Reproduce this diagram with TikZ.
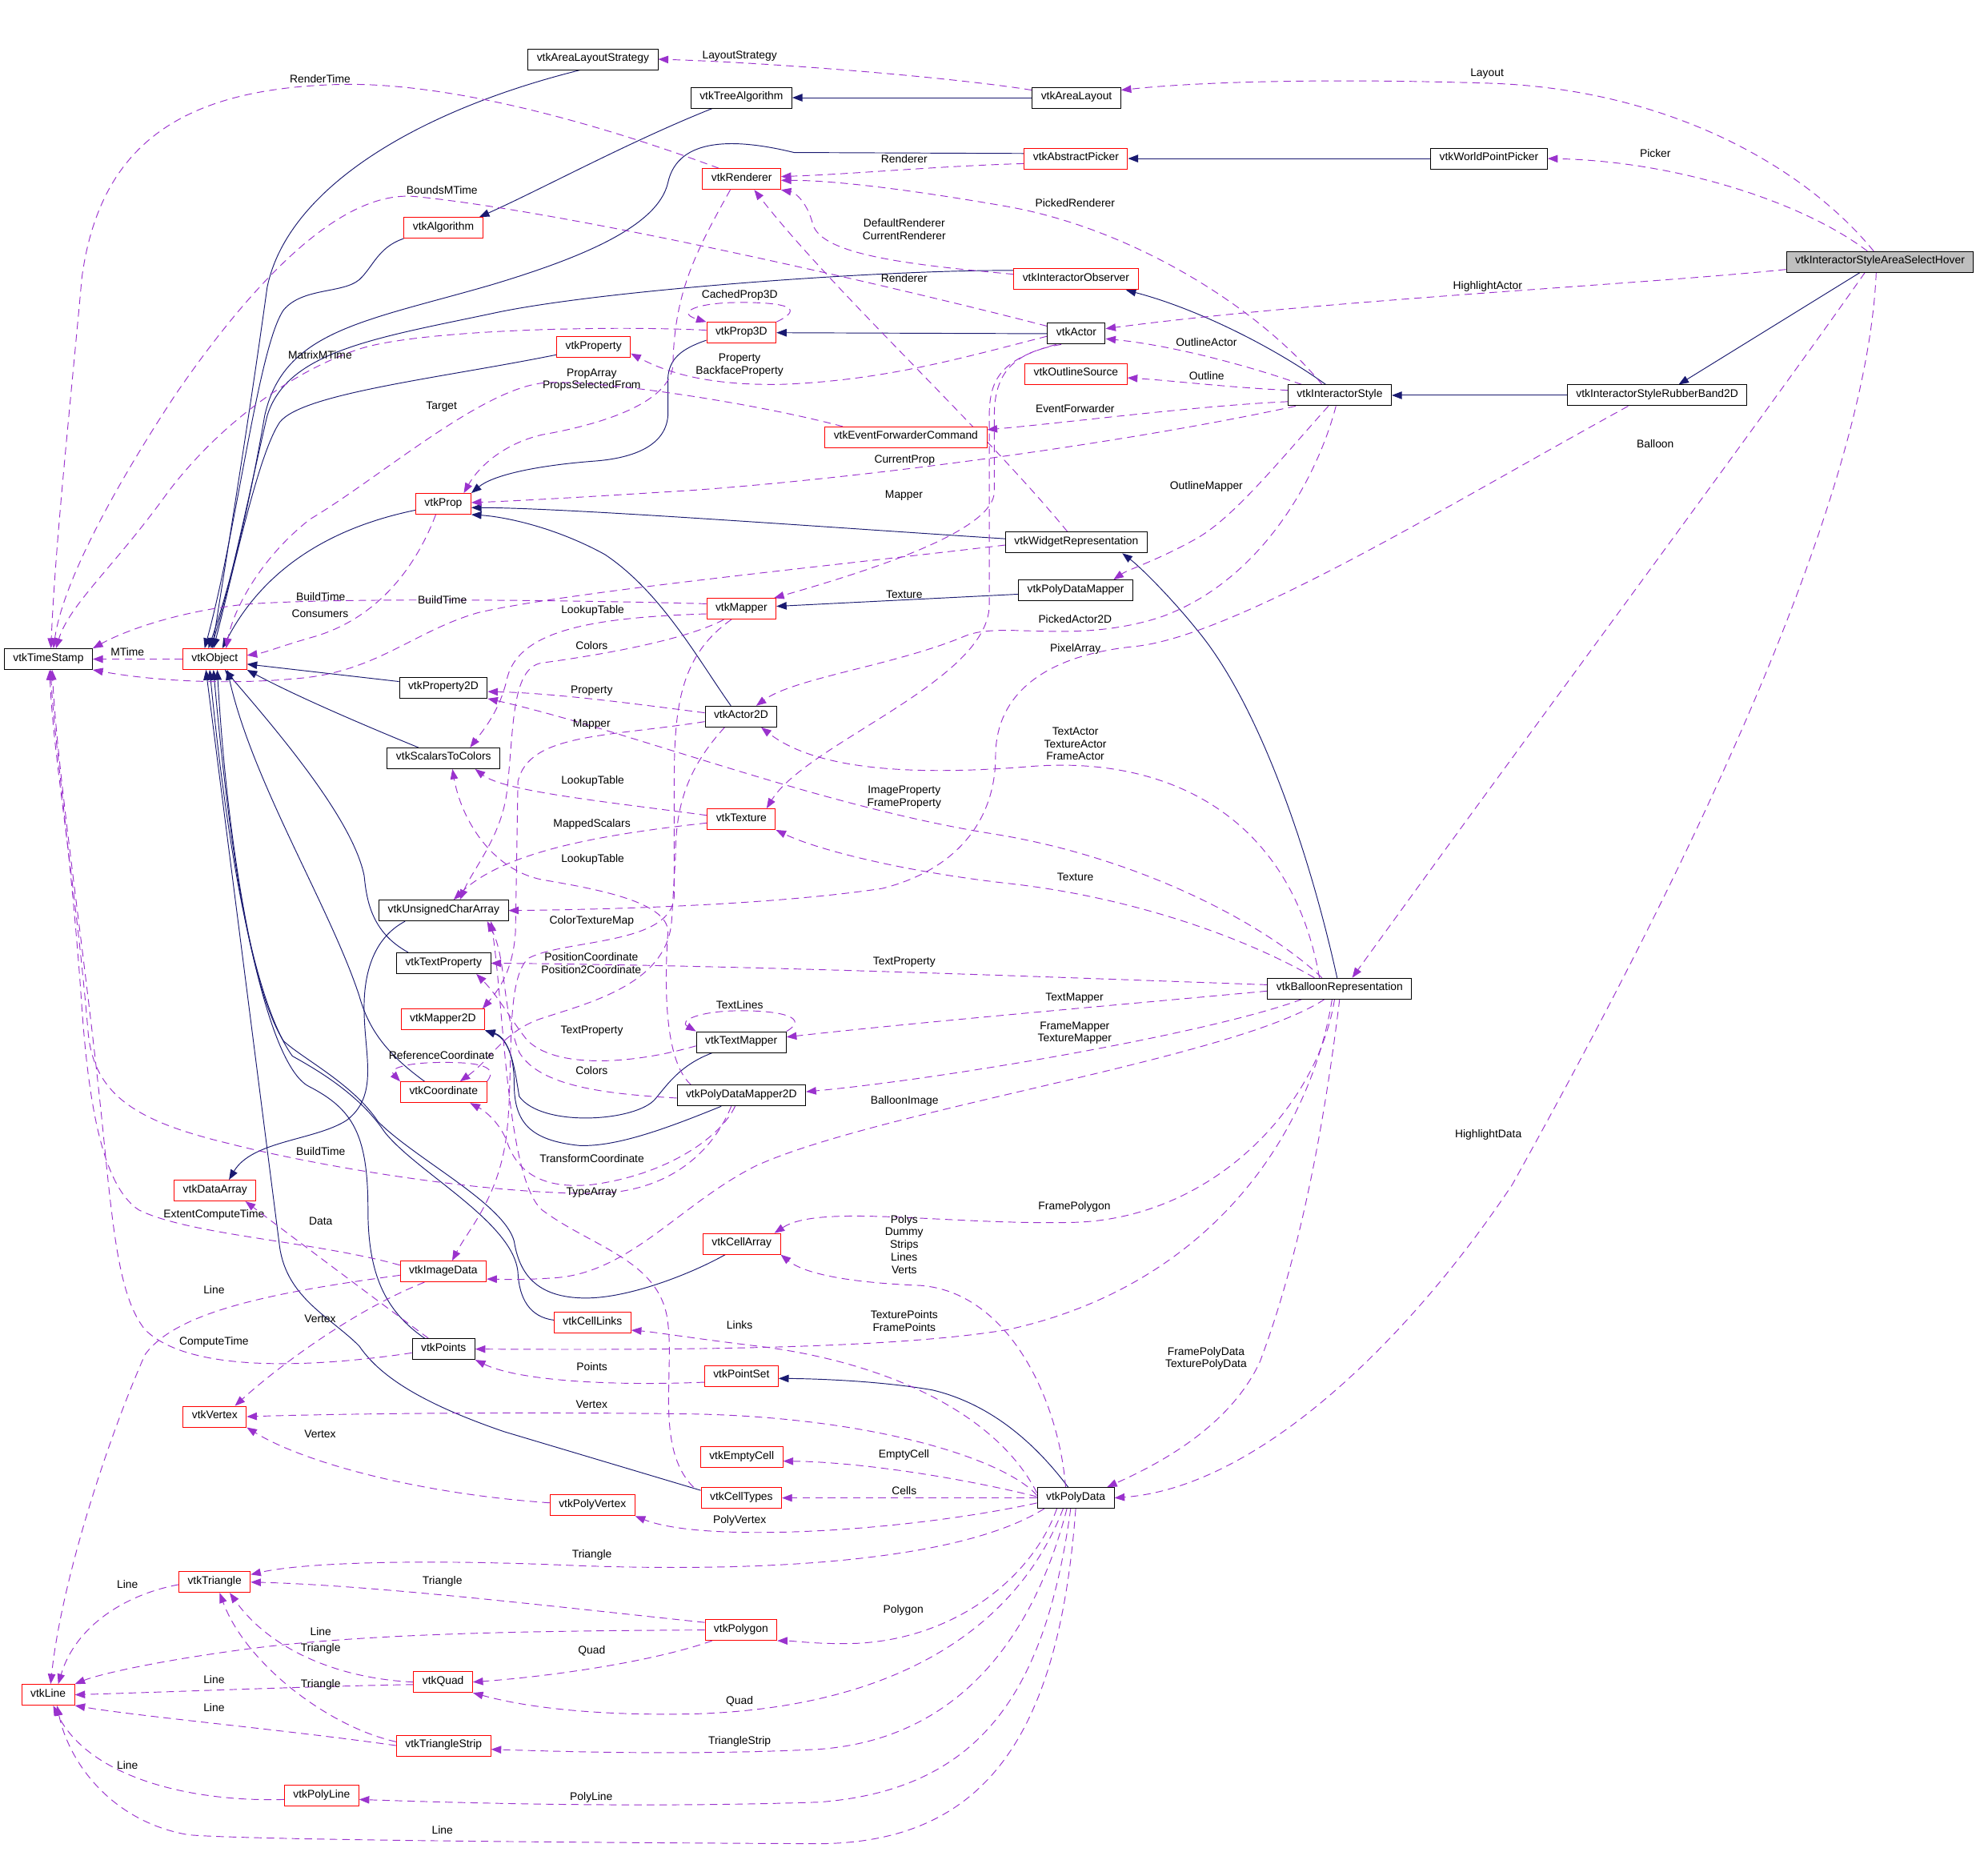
\documentclass[tikz,border=0pt]{standalone}
\usepackage{fontspec}
\setmainfont{Liberation Sans}
\usetikzlibrary{arrows.meta}
\definecolor{inhblue}{HTML}{191970}
\definecolor{usepurple}{HTML}{9A32CD}
\definecolor{boxred}{HTML}{FF0000}
\definecolor{focusgray}{HTML}{BFBFBF}
\newcommand{\diafont}{\fontsize{8.8}{10}\selectfont}
\pgfdeclarelayer{edges}
\pgfsetlayers{edges,main}
\tikzset{
  cls/.style={draw=black, fill=white, line width=0.6pt, font=\diafont, inner xsep=7pt, inner ysep=0pt, minimum height=16.5pt, text height=5.2pt, text depth=2pt},
  trunc/.style={cls, draw=boxred},
  focus/.style={cls, fill=focusgray},
  inh/.style={draw=inhblue, line width=0.6pt, -{Triangle[length=8pt,width=6pt]}},
  member/.style={draw=usepurple, line width=0.6pt, dash pattern=on 6pt off 4pt, -{Triangle[length=8pt,width=6pt]}},
  lab/.style={font=\diafont, align=center, inner sep=0pt, text=black},
}

\begin{document}
\begin{tikzpicture}[x=1pt,y=-1pt]
\begin{pgfonlayer}{edges}
\fill[white] (0,0) rectangle (1568,1488);
\end{pgfonlayer}
\useasboundingbox (0,0) rectangle (1568,1488);

\node[cls] (ALS) at (470.5,47) {vtkAreaLayoutStrategy};
\node[cls] (TreeAlg) at (588.3,77.5) {vtkTreeAlgorithm};
\node[cls] (AreaLayout) at (854.2,77.5) {vtkAreaLayout};
\node[trunc] (AbsPicker) at (853.8,125.8) {vtkAbstractPicker};
\node[cls] (WPPicker) at (1181.5,125.8) {vtkWorldPointPicker};
\node[trunc] (Renderer) at (588.5,142.1) {vtkRenderer};
\node[trunc] (Algorithm) at (351.8,180.8) {vtkAlgorithm};
\node[trunc] (IObserver) at (853.8,221.6) {vtkInteractorObserver};
\node[focus] (ISASH) at (1491.8,207.8) {vtkInteractorStyleAreaSelectHover};
\node[trunc] (Prop3D) at (588.3,264) {vtkProp3D};
\node[cls] (Actor) at (854.1,264.8) {vtkActor};
\node[trunc] (Property) at (471,275.5) {vtkProperty};
\node[trunc] (OutlineSrc) at (853.8,296.8) {vtkOutlineSource};
\node[cls] (IStyle) at (1063.1,313.7) {vtkInteractorStyle};
\node[cls] (ISRB) at (1315,313.7) {vtkInteractorStyleRubberBand2D};
\node[trunc] (EFC) at (718.8,347) {vtkEventForwarderCommand};
\node[trunc] (Prop) at (351.8,399.8) {vtkProp};
\node[cls] (WidgetRep) at (854.1,430.5) {vtkWidgetRepresentation};
\node[cls] (PDMapper) at (853.6,468.5) {vtkPolyDataMapper};
\node[trunc] (Mapper) at (588.3,483.1) {vtkMapper};
\node[cls] (TimeStamp) at (38.4,523) {vtkTimeStamp};
\node[trunc] (Object) at (170.4,523) {vtkObject};
\node[cls] (Property2D) at (351.8,545.8) {vtkProperty2D};
\node[cls] (Actor2D) at (588,568.6) {vtkActor2D};
\node[cls] (S2C) at (352,601.7) {vtkScalarsToColors};
\node[trunc] (Texture) at (588.3,650) {vtkTexture};
\node[cls] (UCArray) at (352,722.5) {vtkUnsignedCharArray};
\node[cls] (TextProp) at (352,764.3) {vtkTextProperty};
\node[cls] (BalloonRep) at (1063,784.4) {vtkBalloonRepresentation};
\node[trunc] (Mapper2D) at (351.4,809) {vtkMapper2D};
\node[cls] (TextMapper) at (588.2,826.9) {vtkTextMapper};
\node[trunc] (Coord) at (352,866.7) {vtkCoordinate};
\node[cls] (PDMapper2D) at (588.3,869.3) {vtkPolyDataMapper2D};
\node[trunc] (DataArray) at (170.7,944.7) {vtkDataArray};
\node[trunc] (CellArray) at (588.5,987) {vtkCellArray};
\node[trunc] (ImageData) at (351.8,1008.9) {vtkImageData};
\node[trunc] (CellLinks) at (470.2,1049.5) {vtkCellLinks};
\node[cls] (Points) at (352,1070.5) {vtkPoints};
\node[trunc] (PointSet) at (588.3,1091.8) {vtkPointSet};
\node[trunc] (Vertex) at (170.4,1124.1) {vtkVertex};
\node[trunc] (EmptyCell) at (588.5,1156.4) {vtkEmptyCell};
\node[trunc] (CellTypes) at (588.3,1188.6) {vtkCellTypes};
\node[cls] (PolyData) at (853.6,1188.6) {vtkPolyData};
\node[trunc] (PolyVertex) at (470.1,1194.5) {vtkPolyVertex};
\node[trunc] (Triangle) at (170.3,1255.4) {vtkTriangle};
\node[trunc] (Polygon) at (588,1293.4) {vtkPolygon};
\node[trunc] (Quad) at (351.6,1334.7) {vtkQuad};
\node[trunc] (Line) at (38.2,1344.8) {vtkLine};
\node[trunc] (TriStrip) at (352,1385.1) {vtkTriangleStrip};
\node[trunc] (PolyLine) at (255.2,1424.9) {vtkPolyLine};

\begin{pgfonlayer}{edges}
\draw[inh] ([xshift=-10pt]ALS.south) .. controls (330,88) and (228,150) .. (212,228) .. controls (198,330) and (180,440) .. ([xshift=-2pt]Object.north);
\draw[inh] ([xshift=-23pt]TreeAlg.south) .. controls (500,112) and (430,150) .. ([xshift=-3pt]Algorithm.north east);
\draw[inh] (AreaLayout.west) -- (TreeAlg.east);
\draw[inh] ([yshift=4pt]AbsPicker.west) -- (630,121) .. controls (585,110) and (538,108) .. (530,145) .. controls (522,180) and (460,205) .. (390,226) .. controls (290,255) and (225,262) .. (210,330) .. controls (198,400) and (184,460) .. ([xshift=-5pt]Object.north);
\draw[inh] (WPPicker.west) -- (AbsPicker.east);
\draw[inh] (Algorithm.south west) .. controls (300,196) and (296,212) .. (285,222) .. controls (272,233) and (240,228) .. (225,246) .. controls (205,275) and (188,420) .. ([xshift=-8pt]Object.north);
\draw[inh] ([yshift=7pt]IObserver.west) .. controls (700,214) and (480,230) .. (394,248) .. controls (300,268) and (228,278) .. (212,330) .. controls (198,390) and (184,460) .. ([xshift=-3pt]Object.north);
\draw[inh] ([yshift=-6pt]Prop3D.west) .. controls (540,277) and (531,285) .. (530,300) -- (530,330) .. controls (528,355) and (500,364) .. (470,366) .. controls (420,370) and (390,378) .. (Prop.north east);
\draw[inh] (Actor.west) -- (Prop3D.east);
\draw[inh] ([yshift=-6pt]Property.west) .. controls (350,300) and (240,312) .. (222,335) .. controls (205,360) and (186,450) .. ([xshift=-1pt]Object.north);
\draw[inh] ([xshift=-11pt]IStyle.north) .. controls (1010,275) and (950,245) .. ([xshift=-10pt]IObserver.south east);
\draw[inh] (ISRB.west) -- (IStyle.east);
\draw[inh] ([xshift=-16pt]ISASH.south) -- ([xshift=17pt]ISRB.north);
\draw[inh] ([yshift=-5pt]Prop.west) .. controls (280,415) and (215,440) .. ([xshift=6pt]Object.north);
\draw[inh] ([yshift=3pt]WidgetRep.west) .. controls (650,418) and (450,403) .. ([yshift=-3pt]Prop.east);
\draw[inh] ([yshift=-3pt]PDMapper.west) -- ([yshift=2pt]Mapper.east);
\draw[inh] ([yshift=5pt]Property2D.west) -- ([yshift=-4pt]Object.east);
\draw[inh] ([xshift=-8pt]Actor2D.north) .. controls (555,525) and (525,470) .. (480,440) .. controls (440,418) and (400,410) .. (Prop.south east);
\draw[inh] ([xshift=-20pt]S2C.north) .. controls (300,580) and (240,555) .. (Object.south east);
\draw[inh] ([xshift=-2pt]BalloonRep.north) .. controls (1040,680) and (1000,560) .. (950,500) .. controls (930,475) and (905,450) .. ([xshift=-20pt]WidgetRep.south east);
\draw[inh] ([xshift=-28pt]TextProp.north) .. controls (295,740) and (291,715) .. (289,695) .. controls (280,650) and (220,580) .. ([xshift=8pt]Object.south);
\draw[inh] ([xshift=-23pt]TextMapper.south) .. controls (540,845) and (530,860) .. (520,872) .. controls (505,890) and (430,895) .. (412,870) .. controls (408,845) and (405,825) .. (Mapper2D.south east);
\draw[inh] ([xshift=-16pt]PDMapper2D.south) .. controls (530,895) and (490,910) .. (460,909) .. controls (420,905) and (408,890) .. (408,860) .. controls (408,835) and (400,822) .. (Mapper2D.south east);
\draw[inh] ([xshift=21pt]UCArray.south west) .. controls (295,745) and (288,775) .. (289,805) .. controls (290,840) and (300,870) .. (275,889) .. controls (250,905) and (200,905) .. ([xshift=11pt]DataArray.north);
\draw[inh] ([xshift=-15pt]Coord.north) .. controls (305,835) and (292,815) .. (285,790) .. controls (262,720) and (200,620) .. ([xshift=10pt]Object.south);
\draw[inh] ([xshift=-15pt]Points.north) .. controls (305,1040) and (292,1010) .. (292,960) .. controls (292,900) and (280,880) .. (245,862) .. controls (212,845) and (182,700) .. ([xshift=2pt]Object.south);
\draw[inh] ([xshift=-13pt]CellArray.south) .. controls (550,1010) and (500,1030) .. (465,1030) .. controls (425,1030) and (412,1010) .. (408,985) .. controls (400,955) and (330,920) .. (300,890) .. controls (280,860) and (240,840) .. (225,826) .. controls (196,780) and (180,650) .. ([xshift=-1pt]Object.south);
\draw[inh] ([yshift=2pt]CellLinks.west) .. controls (420,1045) and (412,1030) .. (411,1010) .. controls (408,970) and (330,930) .. (305,898) .. controls (285,868) and (250,848) .. (232,838) .. controls (198,790) and (178,650) .. ([xshift=-4pt]Object.south);
\draw[inh] ([yshift=6pt]CellTypes.west) -- (400,1136) .. controls (330,1112) and (300,1090) .. (285,1068) .. controls (262,1045) and (228,1030) .. (222,990) -- ([xshift=-7pt]Object.south);
\draw[inh] ([xshift=-6pt]PolyData.north) .. controls (825,1150) and (790,1115) .. (740,1103) .. controls (700,1096) and (650,1094) .. ([yshift=-2pt]PointSet.east);

\draw[member] ([xshift=-5pt]ISASH.north) .. controls (1430,130) and (1320,70) .. (1180,66) .. controls (1050,62) and (950,65) .. ([yshift=6pt]AreaLayout.east) node[lab] (tLayout) at (1180,58.3) {Layout};
\draw[member] ([xshift=-10pt]ISASH.north) .. controls (1430,160) and (1330,128) .. (WPPicker.east) node[lab] (tPicker) at (1313.5,121.5) {Picker};
\draw[member] ([yshift=-6pt]ISASH.west) .. controls (1300,226) and (1050,238) .. ([yshift=4pt]Actor.east) node[lab] (tHiActor) at (1180.5,227.5) {HighlightActor};
\draw[member] ([xshift=-12pt]ISASH.south) .. controls (1400,330) and (1200,600) .. ([xshift=10pt]BalloonRep.north) node[lab] (tBalloon) at (1313.5,352.2) {Balloon};
\draw[member] ([xshift=-3pt]ISASH.south) .. controls (1480,420) and (1300,760) .. (1200,940) .. controls (1120,1060) and (1000,1180) .. (PolyData.east) node[lab] (tHiData) at (1181,900.4) {HighlightData};
\draw[member] ([yshift=6pt]AreaLayout.west) .. controls (760,62) and (620,50) .. (ALS.east) node[lab] (tLayStrat) at (586.9,44.4) {LayoutStrategy};
\draw[member] ([yshift=-4pt]AbsPicker.west) .. controls (740,132) and (680,138) .. ([yshift=2pt]Renderer.east) node[lab] (tRenAP) at (717.5,126) {Renderer};
\draw[member] ([yshift=4pt]IObserver.west) .. controls (720,210) and (652,202) .. (645,178) .. controls (641,162) and (632,153) .. (Renderer.south east) node[lab] (tDefRen) at (717.5,182) {DefaultRenderer\\CurrentRenderer};
\draw[member] ([xshift=-7pt]WidgetRep.north) .. controls (780,340) and (660,230) .. ([xshift=10pt]Renderer.south) node[lab] (tRenWR) at (717.5,220.7) {Renderer};
\draw[member] ([xshift=-14pt]IStyle.north) .. controls (1000,245) and (900,182) .. (800,164) .. controls (720,150) and (660,143) .. ([yshift=-1pt]Renderer.east) node[lab] (tPickRen) at (853.1,161) {PickedRenderer};
\draw[member] ([xshift=-18pt]Renderer.north) .. controls (480,100) and (360,65) .. (270,67) .. controls (150,70) and (80,110) .. (65,220) .. controls (55,330) and (44,430) .. ([xshift=2pt]TimeStamp.north) node[lab] (tRenTime) at (254,62.5) {RenderTime};
\draw[member] ([yshift=6pt]Actor.west) .. controls (700,225) and (450,168) .. (330,156) .. controls (270,150) and (200,225) .. (140,312) .. controls (95,380) and (50,460) .. ([xshift=4pt]TimeStamp.north) node[lab] (tBounds) at (350.7,151) {BoundsMTime};
\draw[member] ([yshift=2pt]Prop3D.west) .. controls (480,258) and (330,262) .. (285,277) .. controls (230,295) and (170,340) .. (130,395) .. controls (90,450) and (55,480) .. ([xshift=6pt]TimeStamp.north) node[lab] (tMatrix) at (254,281.6) {MatrixMTime};
\draw[member] (Prop3D.north east) .. controls (640,244) and (622,240) .. (588,240) .. controls (552,240) and (536,248) .. (Prop3D.north west) node[lab] (tCached) at (586.9,234.6) {CachedProp3D};
\draw[member] ([yshift=-2pt]Actor.west) .. controls (760,285) and (700,302) .. (620,305) .. controls (560,306) and (528,295) .. ([yshift=-5pt]Property.east) node[lab] (tProperty) at (586.9,289.5) {Property\\BackfaceProperty};
\draw[member] ([xshift=-9pt]Renderer.south) .. controls (552,200) and (535,232) .. (534,290) .. controls (531,322) and (470,338) .. (430,345) .. controls (400,352) and (380,370) .. ([xshift=-6pt]Prop.north east) node[lab] (tPropArray) at (469.5,301.5) {PropArray\\PropsSelectedFrom};
\draw[member] ([xshift=-50pt]EFC.north) .. controls (600,320) and (470,300) .. (430,304) .. controls (380,310) and (300,380) .. (246,412) .. controls (210,440) and (186,480) .. ([xshift=9pt]Object.north) node[lab] (tTarget) at (350.4,322.7) {Target};
\draw[member] ([yshift=-5pt]IStyle.west) .. controls (950,322) and (850,335) .. ([yshift=6pt]EFC.east) node[lab] (tEvFwd) at (853.1,324.4) {EventForwarder};
\draw[member] ([xshift=-30pt]IStyle.north) .. controls (990,290) and (930,274) .. ([yshift=-4pt]Actor.east) node[lab] (tOutActor) at (957.3,271.5) {OutlineActor};
\draw[member] ([yshift=4pt]IStyle.west) .. controls (970,307) and (930,302) .. ([yshift=-3pt]OutlineSrc.east) node[lab] (tOutline) at (957.5,298.1) {Outline};
\draw[member] ([xshift=-35pt]IStyle.south) .. controls (900,350) and (700,378) .. (550,389) .. controls (470,394) and (420,397) .. ([yshift=1pt]Prop.east) node[lab] (tCurProp) at (717.8,365.5) {CurrentProp};
\draw[member] ([xshift=-9pt]IStyle.south) .. controls (1020,360) and (980,410) .. (950,427) .. controls (920,444) and (895,452) .. ([xshift=30pt]PDMapper.north) node[lab] (tOutMapper) at (957.3,386) {OutlineMapper};
\draw[member] ([xshift=-3pt]IStyle.south) .. controls (1045,380) and (1000,462) .. (920,490) .. controls (850,512) and (795,492) .. (765,505) .. controls (710,528) and (630,538) .. ([xshift=12pt]Actor2D.north) node[lab] (tPickA2D) at (853.1,491.3) {PickedActor2D};
\draw[member] ([xshift=-12pt]Actor.south) .. controls (800,280) and (789,300) .. (789,330) -- (789,390) .. controls (789,420) and (700,450) .. ([xshift=-2pt]Mapper.north east) node[lab] (tMapperA) at (717.3,393) {Mapper};
\draw[member] ([xshift=-16pt]Actor.south) .. controls (795,285) and (785,300) .. (785,330) -- (785,480) .. controls (785,540) and (640,590) .. ([xshift=20pt]Texture.north) node[lab] (tTextureA) at (717.5,471.5) {Texture};
\draw[member] ([yshift=-2pt]WidgetRep.west) .. controls (650,450) and (450,470) .. (380,486) .. controls (330,500) and (300,532) .. (240,538) .. controls (180,544) and (120,540) .. (TimeStamp.south east) node[lab] (tBuildWR) at (254.5,473.4) {BuildTime};
\draw[member] ([yshift=4pt]Mapper.west) .. controls (450,476) and (250,474) .. (190,480) .. controls (140,486) and (100,500) .. (TimeStamp.north east) node[lab] (tBuildM) at (351,476) {BuildTime};
\draw[member] ([xshift=-6pt]Prop.south) .. controls (330,450) and (300,490) .. (250,505) .. controls (225,512) and (210,518) .. ([yshift=3pt]Object.east) node[lab] (tConsumers) at (254,486.7) {Consumers};
\draw[member] (Object.west) -- (TimeStamp.east) node[lab] (tMTime) at (101.1,517.4) {MTime};
\draw[member] ([yshift=-4pt]Mapper.west) .. controls (470,490) and (410,500) .. (402,540) .. controls (396,565) and (383,580) .. ([xshift=21pt]S2C.north) node[lab] (tLutM) at (470.3,484.4) {LookupTable};
\draw[member] ([xshift=-14pt]Mapper.south) .. controls (540,510) and (460,522) .. (430,526) .. controls (405,530) and (408,580) .. (402,630) .. controls (397,665) and (375,690) .. ([xshift=13pt]UCArray.north) node[lab] (tColorsM) at (469.5,512.2) {Colors};
\draw[member] ([xshift=-8pt]Mapper.south) .. controls (540,520) and (535,560) .. (535,620) -- (535,710) .. controls (535,750) and (450,745) .. (420,760) .. controls (400,775) and (408,850) .. (402,900) .. controls (396,950) and (372,975) .. ([xshift=7pt]ImageData.north) node[lab] (tCTMap) at (469.5,730.7) {ColorTextureMap};
\draw[member] ([yshift=3pt]Actor2D.west) .. controls (500,558) and (440,550) .. ([yshift=-3pt]Property2D.east) node[lab] (tPropA2D) at (469.5,547.9) {Property};
\draw[member] ([xshift=-14pt]BalloonRep.north) .. controls (1000,730) and (900,680) .. (790,662) .. controls (650,640) and (500,580) .. (Property2D.south east) node[lab] (tImgProp) at (717.5,632.6) {ImageProperty\\FrameProperty};
\draw[member] ([xshift=-16pt]BalloonRep.north) .. controls (1025,650) and (930,600) .. (820,608) .. controls (700,618) and (640,605) .. ([xshift=16pt]Actor2D.south) node[lab] (tTextActor) at (853.3,590.3) {TextActor\\TextureActor\\FrameActor};
\draw[member] ([xshift=-23pt]ISRB.south) .. controls (1150,400) and (980,505) .. (900,513) .. controls (830,520) and (790,550) .. (790,600) .. controls (790,650) and (760,690) .. (700,705) .. controls (600,720) and (450,722) .. (UCArray.east) node[lab] (tPixel) at (853.3,515.2) {PixelArray};
\draw[member] ([yshift=3pt]Texture.west) .. controls (480,636) and (400,628) .. ([xshift=25pt]S2C.south) node[lab] (tLutT) at (470.3,619.5) {LookupTable};
\draw[member] ([yshift=-3pt]Texture.west) .. controls (480,662) and (400,675) .. ([xshift=8pt]UCArray.north) node[lab] (tMapped) at (469.7,653.9) {MappedScalars};
\draw[member] ([xshift=-40pt]PDMapper2D.north) .. controls (525,840) and (528,770) .. (530,740) .. controls (531,715) and (470,705) .. (430,698) .. controls (390,690) and (366,650) .. ([xshift=7pt]S2C.south) node[lab] (tLutP) at (470.3,681.7) {LookupTable};
\draw[member] ([yshift=-4pt]Actor2D.west) .. controls (480,585) and (420,582) .. (411,620) -- (409,740) .. controls (407,770) and (396,785) .. ([xshift=-2pt]Mapper2D.north east) node[lab] (tMapperA2D) at (469.5,575.1) {Mapper};
\draw[member] ([xshift=-13pt]Actor2D.south) .. controls (545,610) and (536,640) .. (536,680) -- (533,730) .. controls (530,780) and (470,795) .. (430,808) .. controls (400,818) and (390,840) .. ([xshift=13pt]Coord.north) node[lab] (tPosCoord) at (469.2,764.3) {PositionCoordinate\\Position2Coordinate};
\draw[member] ([yshift=-3pt]TextMapper.west) .. controls (500,845) and (440,848) .. (418,825) .. controls (406,810) and (395,790) .. ([xshift=26pt]TextProp.south) node[lab] (tTPropTM) at (469.7,818.1) {TextProperty};
\draw[member] (TextMapper.north east) .. controls (642,808) and (622,802) .. (588,802) .. controls (555,802) and (538,810) .. (TextMapper.north west) node[lab] (tTextLines) at (586.9,797.4) {TextLines};
\draw[member] ([yshift=-2pt]PDMapper2D.west) .. controls (480,868) and (428,862) .. (412,835) .. controls (398,800) and (402,760) .. ([xshift=-17pt]UCArray.south east) node[lab] (tColorsP) at (469.5,849.6) {Colors};
\draw[member] ([xshift=-8pt]PDMapper2D.south) .. controls (562,922) and (522,947) .. (470,947) .. controls (380,947) and (250,925) .. (180,907) .. controls (110,890) and (75,870) .. (70,820) .. controls (60,700) and (42,600) .. ([xshift=1pt]TimeStamp.south) node[lab] (tBuildP) at (254.5,913.7) {BuildTime};
\draw[member] ([xshift=-5pt]PDMapper2D.south) .. controls (572,902) and (530,932) .. (470,940) .. controls (430,944) and (410,930) .. (402,905) .. controls (395,888) and (382,880) .. ([xshift=21pt]Coord.south) node[lab] (tTransCoord) at (469.7,919.3) {TransformCoordinate};
\draw[member] (Coord.north east) .. controls (396,846) and (380,843) .. (352,843) .. controls (322,843) and (308,848) .. (Coord.north west) node[lab] (tRefCoord) at (350.4,837.6) {ReferenceCoordinate};
\draw[member] ([yshift=3pt]BalloonRep.west) .. controls (850,776) and (600,766) .. (TextProp.east) node[lab] (tTPropB) at (717.5,763.7) {TextProperty};
\draw[member] ([yshift=-2pt]BalloonRep.west) .. controls (880,798) and (720,812) .. ([yshift=4pt]TextMapper.east) node[lab] (tTMapper) at (852.6,792.2) {TextMapper};
\draw[member] ([xshift=-30pt]BalloonRep.south) .. controls (960,820) and (750,856) .. ([yshift=3pt]PDMapper2D.east) node[lab] (tFrameMapper) at (852.8,819.6) {FrameMapper\\TextureMapper};
\draw[member] ([xshift=-12pt]BalloonRep.south) .. controls (980,840) and (700,880) .. (600,925) .. controls (540,955) and (500,1010) .. (440,1014) .. controls (410,1016) and (395,1015) .. ([yshift=-6pt]ImageData.east) node[lab] (tBalloonImg) at (717.8,873.6) {BalloonImage};
\draw[member] ([xshift=-4pt]BalloonRep.south) .. controls (1045,880) and (960,968) .. (850,970) .. controls (750,972) and (650,955) .. ([xshift=-5pt]CellArray.north east) node[lab] (tFramePoly) at (852.6,957.5) {FramePolygon};
\draw[member] ([xshift=-6pt]BalloonRep.south) .. controls (1040,900) and (960,1020) .. (800,1055) .. controls (700,1072) and (500,1071) .. (Points.east) node[lab] (tTexPoints) at (717.5,1048.1) {TexturePoints\\FramePoints};
\draw[member] (BalloonRep.south) .. controls (1050,900) and (1030,1000) .. (1000,1080) .. controls (975,1135) and (912,1165) .. ([xshift=-6pt]PolyData.north east) node[lab] (tFramePD) at (957,1077.9) {FramePolyData\\TexturePolyData};
\draw[member] ([xshift=-20pt]BalloonRep.north) .. controls (990,745) and (900,712) .. (800,701) .. controls (720,692) and (650,675) .. (Texture.south east) node[lab] (tTextureB) at (853.3,695.7) {Texture};
\draw[member] ([xshift=-8pt]PolyData.north) .. controls (840,1110) and (800,1025) .. (730,1020) .. controls (680,1018) and (640,1012) .. (CellArray.south east) node[lab] (tPolys) at (717.5,987.3) {Polys\\Dummy\\Strips\\Lines\\Verts};
\draw[member] ([yshift=4pt]PolyData.west) .. controls (790,1120) and (700,1080) .. (600,1068) .. controls (550,1062) and (520,1057) .. ([yshift=-6pt]CellLinks.east) node[lab] (tLinks) at (586.9,1051.3) {Links};
\draw[member] ([yshift=-5pt]PointSet.west) .. controls (480,1100) and (410,1095) .. (Points.south east) node[lab] (tPoints) at (469.7,1084.3) {Points};
\draw[member] ([yshift=2pt]PolyData.west) .. controls (800,1160) and (700,1125) .. (550,1122) .. controls (400,1120) and (260,1122) .. (Vertex.east) node[lab] (tVertexPD) at (469.5,1114.1) {Vertex};
\draw[member] ([yshift=2pt]PolyVertex.west) .. controls (330,1185) and (240,1160) .. (Vertex.south east) node[lab] (tVertexPV) at (254,1137.9) {Vertex};
\draw[member] ([yshift=1pt]PolyData.west) .. controls (760,1172) and (680,1160) .. ([yshift=-3pt]EmptyCell.east) node[lab] (tEmpty) at (717.3,1154.3) {EmptyCell};
\draw[member] (PolyData.west) -- (CellTypes.east) node[lab] (tCells) at (717.5,1182.9) {Cells};
\draw[member] ([yshift=-4pt]PolyData.west) .. controls (720,1215) and (560,1225) .. (PolyVertex.south east) node[lab] (tPolyVtx) at (586.9,1206.4) {PolyVertex};
\draw[member] ([xshift=-25pt]PolyData.south) .. controls (760,1240) and (600,1248) .. (450,1242) .. controls (330,1237) and (240,1240) .. ([yshift=6pt]Triangle.east) node[lab] (tTriPD) at (469.7,1234) {Triangle};
\draw[member] ([xshift=-15pt]PolyData.south) .. controls (820,1250) and (760,1300) .. (680,1304) .. controls (650,1305) and (630,1302) .. (Polygon.south east) node[lab] (tPolygon) at (716.8,1277.4) {Polygon};
\draw[member] ([xshift=-10pt]PolyData.south) .. controls (810,1285) and (720,1355) .. (550,1360) .. controls (450,1362) and (400,1350) .. (Quad.south east) node[lab] (tQuadPD) at (586.9,1349.7) {Quad};
\draw[member] ([xshift=-7pt]PolyData.south) .. controls (820,1300) and (760,1380) .. (650,1388) .. controls (550,1393) and (450,1390) .. ([yshift=-3pt]TriStrip.east) node[lab] (tTriStrip) at (586.9,1381.8) {TriangleStrip};
\draw[member] ([xshift=-4pt]PolyData.south) .. controls (830,1340) and (780,1420) .. (650,1430) .. controls (500,1435) and (350,1430) .. ([yshift=-3pt]PolyLine.east) node[lab] (tPolyLine) at (469.2,1426.2) {PolyLine};
\draw[member] (PolyData.south) .. controls (840,1380) and (780,1462) .. (650,1463) .. controls (450,1462) and (200,1460) .. (150,1456) .. controls (90,1446) and (55,1400) .. ([xshift=7pt]Line.south) node[lab] (tLinePD) at (351,1452.2) {Line};
\draw[member] ([yshift=6pt]Polygon.west) .. controls (450,1276) and (300,1258) .. (Triangle.east) node[lab] (tTriPg) at (351,1254.6) {Triangle};
\draw[member] (Polygon.west) .. controls (450,1294) and (300,1295) .. (200,1308) .. controls (130,1317) and (80,1328) .. (Line.north east) node[lab] (tLinePg) at (254.5,1294.5) {Line};
\draw[member] ([xshift=-23pt]Polygon.south) .. controls (520,1318) and (440,1330) .. (Quad.east) node[lab] (tQuadPg) at (469.5,1309.8) {Quad};
\draw[member] (Quad.west) .. controls (270,1332) and (215,1310) .. ([xshift=12pt]Triangle.south) node[lab] (tTriQ) at (254.5,1307.9) {Triangle};
\draw[member] ([yshift=-2pt]Quad.west) .. controls (250,1338) and (150,1342) .. (Line.east) node[lab] (tLineQ) at (169.8,1332.6) {Line};
\draw[member] ([yshift=3pt]TriStrip.west) .. controls (260,1370) and (195,1320) .. ([xshift=4pt]Triangle.south) node[lab] (tTriTS) at (254.5,1337) {Triangle};
\draw[member] (TriStrip.west) .. controls (230,1373) and (110,1362) .. (Line.south east) node[lab] (tLineTS) at (169.8,1354.8) {Line};
\draw[member] ([yshift=-2pt]Triangle.west) .. controls (100,1265) and (60,1290) .. ([xshift=8pt]Line.north) node[lab] (tLineTri) at (101.1,1257.1) {Line};
\draw[member] ([yshift=-3pt]PolyLine.west) .. controls (150,1430) and (70,1410) .. ([xshift=4pt]Line.south) node[lab] (tLinePL) at (101.1,1400.8) {Line};
\draw[member] ([yshift=-3pt]ImageData.west) .. controls (220,1025) and (140,1040) .. (115,1075) .. controls (82,1150) and (48,1260) .. ([xshift=2pt]Line.north) node[lab] (tLineID) at (169.8,1023.4) {Line};
\draw[member] ([xshift=-15pt]ImageData.south) .. controls (280,1040) and (220,1085) .. ([xshift=16pt]Vertex.north) node[lab] (tVertexID) at (254,1046.2) {Vertex};
\draw[member] ([yshift=5pt]ImageData.west) .. controls (250,985) and (150,980) .. (110,960) .. controls (80,940) and (70,870) .. (65,800) .. controls (57,680) and (42,580) .. ([xshift=2pt]TimeStamp.south) node[lab] (tExtent) at (169.8,964) {ExtentComputeTime};
\draw[member] ([yshift=-3pt]Points.west) .. controls (250,1085) and (150,1090) .. (115,1055) .. controls (95,1030) and (90,980) .. (82,900) .. controls (68,760) and (46,620) .. ([xshift=3pt]TimeStamp.south) node[lab] (tCompute) at (169.8,1065.2) {ComputeTime};
\draw[member] ([xshift=-12pt]Points.north) .. controls (290,1025) and (230,980) .. ([xshift=24pt]DataArray.south) node[lab] (tData) at (254.5,969.2) {Data};
\draw[member] ([xshift=-38pt]CellTypes.north) .. controls (520,1150) and (535,1090) .. (530,1050) .. controls (525,1000) and (470,990) .. (430,960) .. controls (402,935) and (400,800) .. ([xshift=-14pt]UCArray.south east) node[lab] (tTypeArray) at (469.5,946.1) {TypeArray};
\end{pgfonlayer}
\end{tikzpicture}
\end{document}
